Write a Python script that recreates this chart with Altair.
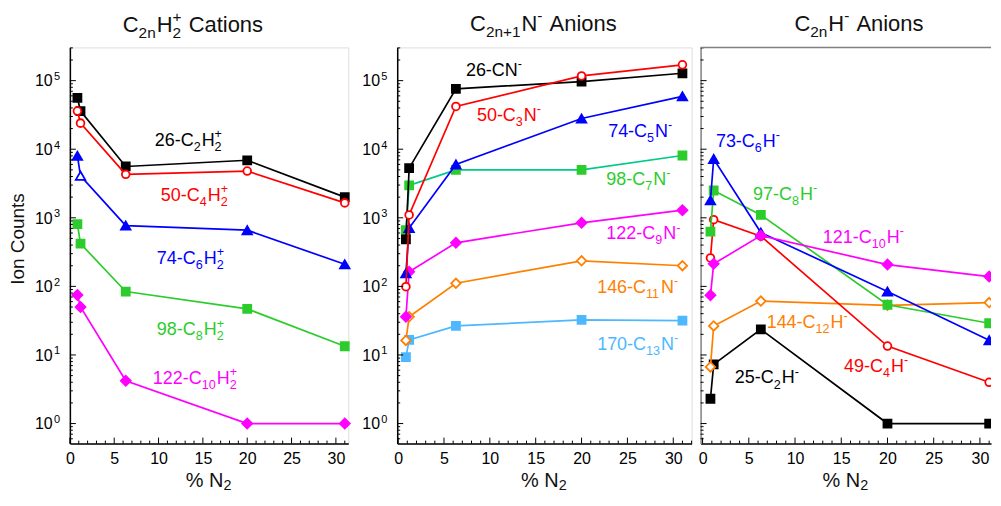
import math
import altair as alt
import pandas as pd

FONT = "Liberation Sans"

# ---------------- data ----------------
PCT_N2 = [0.85, 1.2, 6.3, 20, 31]

# Panel 1: C2nH2+ cations
CAT_26 = [5.6e4, 3.6e4, 5.6e3, 6.9e3, 2.0e3]
CAT_50 = [3.6e4, 2.4e4, 4.3e3, 4.8e3, 1.65e3]
CAT_74 = [8.0e3, 4.1e3, 7.7e2, 6.6e2, 2.1e2]
CAT_98 = [8.1e2, 4.2e2, 84, 47, 13.4]
CAT_122 = [75, 50, 4.2, 1, 1]

# Panel 2: C2n+1N- anions
CN_26 = [484, 5.3e3, 7.6e4, 9.7e4, 1.28e5]
CN_50 = [99, 1.1e3, 4.2e4, 1.17e5, 1.7e5]
CN_74 = [155, 7.1e2, 6.0e3, 2.8e4, 5.9e4]
CN_98 = [660, 2.97e3, 5.0e3, 5.0e3, 8.1e3]
CN_122 = [36, 163, 432, 845, 1290]
CN_146 = [16.3, 36, 111, 236, 200]
CN_170 = [9.3, 16.6, 26.5, 32.5, 31.7]

# Panel 3: C2nH- anions
CH_73 = [1.8e3, 7.2e3, 6.1e2, 84, 16.4]
CH_97 = [6.3e2, 2.5e3, 1.1e3, 54, 29]
CH_49 = [260, 940, 540, 13.5, 4.0]
CH_121 = [74, 213, 550, 208, 139]
CH_144 = [6.7, 26.5, 61, 53, 58]
CH_25 = [2.3, 7.3, 23.6, 1, 1]

X_TICKS = [0, 5, 10, 15, 20, 25, 30]
DECADES = [0, 1, 2, 3, 4, 5]

BLACK = "#000000"; RED = "#ff0000"; BLUE = "#0000ff"; GREEN = "#2ccc2c"
MAGENTA = "#ff00ff"; ORANGE = "#ff8000"; LBLUE = "#4db8ff"; TEAL = "#00c98a"
FRAME = "#808080"

# ---------------- text helpers ----------------
WID = {str(d): 0.556 for d in range(10)}
WID.update({'-': 0.333, '+': 0.584, ' ': 0.278, '%': 0.889, 'C': 0.722, 'H': 0.722,
            'N': 0.722, 'A': 0.667, 'I': 0.278, 'a': 0.556, 't': 0.278, 'i': 0.222,
            'o': 0.556, 'n': 0.556, 's': 0.5, 'u': 0.556})


def tw(s, fs):
    return sum(WID.get(ch, 0.556) for ch in s) * fs


class Panel:
    def __init__(self, xdom, ydom, w, h):
        self.x0, self.x1 = xdom
        self.ly0, self.ly1 = math.log10(ydom[0]), math.log10(ydom[1])
        self.w, self.h = w, h
        self.xs = alt.Scale(domain=list(xdom), nice=False, zero=False)
        self.ys = alt.Scale(type="log", domain=list(ydom), nice=False)

    def x2px(self, x):
        return (x - self.x0) / (self.x1 - self.x0) * self.w

    def px2x(self, px):
        return self.x0 + px / self.w * (self.x1 - self.x0)

    def y2py(self, y):
        return (self.ly1 - math.log10(y)) / (self.ly1 - self.ly0) * self.h

    def py2y(self, py):
        return 10 ** (self.ly1 - py / self.h * (self.ly1 - self.ly0))


def rich(panel, spec, px, py, fs, color, ratio=0.68, center=False, sub=0.28, sup=-0.43):
    small = fs * ratio
    sub_dy, sup_dy = sub * fs, sup * fs
    items = []
    cur = 0.0
    for it in spec:
        kind = it[0]
        if kind in ('n', 'sub', 'sup'):
            size = fs if kind == 'n' else small
            dy = 0 if kind == 'n' else (sub_dy if kind == 'sub' else sup_dy)
            text = it[1]
            if text.startswith(' '):
                cur += tw(' ', size)
                text = text[1:]
            items.append((text, cur, dy, size))
            cur += tw(text, size) + (1 if kind != 'n' else 0)
        else:  # stacked sub + sup
            items.append((it[1], cur, sub_dy, small))
            items.append((it[2], cur, sup_dy, small))
            cur += max(tw(it[1], small), tw(it[2], small)) + 1
    start = px - cur / 2 if center else px
    rows = []
    for text, dx, dy, size in items:
        rows.append(dict(x=panel.px2x(start + dx), y=panel.py2y(py + dy), t=text, fs=size, c=color))
    return rows


def annot(panel, spec, xd, yd, color, fs=18):
    return rich(panel, spec, panel.x2px(xd), panel.y2py(yd), fs, color, ratio=0.7)


def build_panel(panel, series, labels, title_spec, title_px, title_py, ylabels=True,
                ytitle=False, ydomain_color=BLACK, clip=False, frame=True):
    xax = alt.Axis(values=X_TICKS, ticks=False, grid=False, title=None, labelPadding=7,
                   labelFontSize=16, labelFont=FONT, labelColor=BLACK, labelFlush=False,
                   domainColor=BLACK, domainWidth=1.5)
    yax = alt.Axis(labels=False, ticks=False, grid=False, title=None,
                   domainColor=ydomain_color, domainWidth=1.5)
    xs, ys = panel.xs, panel.ys

    def X(f):
        return alt.X(f, scale=xs, axis=xax)

    def Y(f):
        return alt.Y(f, scale=ys, axis=yax)

    layers = []
    for s in series:
        df = pd.DataFrame({'x': PCT_N2, 'y': s['vals'],
                           'open': [i in s.get('open', []) for i in range(len(PCT_N2))]})
        layers.append(alt.Chart(df).mark_line(color=s.get('line', s['color']), strokeWidth=1.7,
                                              clip=clip)
                      .encode(x=X('x:Q'), y=Y('y:Q')))
        layers.append(alt.Chart(df).mark_point(shape=s['shape'], size=s['size'], filled=True,
                                               stroke=s['color'], strokeWidth=1.8, opacity=1,
                                               clip=clip)
                      .encode(x=X('x:Q'), y=Y('y:Q'),
                              fill=alt.condition('datum.open', alt.value('white'),
                                                 alt.value(s['color']))))

    # inward ticks
    ymaj = [10 ** k for k in DECADES]
    ymin = [m * 10 ** k for k in range(-1, 6) for m in range(2, 10)
            if 10 ** panel.ly0 <= m * 10 ** k <= 10 ** panel.ly1]
    for vals, ln in ((ymaj, 6), (ymin, 3)):
        layers.append(alt.Chart(pd.DataFrame({'v': vals})).mark_rule(color=BLACK, strokeWidth=1)
                      .encode(y=Y('v:Q'), x=alt.value(0), x2=alt.value(ln)))
    xmin = [v for v in range(0, 33) if v % 5 and panel.x0 <= v <= panel.x1]
    for vals, ln in ((X_TICKS, 6), (xmin, 3)):
        layers.append(alt.Chart(pd.DataFrame({'v': vals})).mark_rule(color=BLACK, strokeWidth=1)
                      .encode(x=X('v:Q'), y=alt.value(panel.h), y2=alt.value(panel.h - ln)))
    if not frame:
        layers.append(alt.Chart(pd.DataFrame({'v': [1]})).mark_rule(color=FRAME, strokeWidth=1.5)
                      .encode(x=alt.value(0), x2=alt.value(panel.w), y=alt.value(0)))

    rows = []
    for spec, xd, yd, col in labels:
        rows += annot(panel, spec, xd, yd, col)
    rows += rich(panel, title_spec, title_px, title_py, 22, '#111111', ratio=0.7,
                 sub=0.26, sup=-0.46)
    rows += rich(panel, [('n', '% N'), ('sub', '2')], panel.w / 2, panel.h + 43, 20, '#111111',
                 ratio=0.72, center=True, sub=0.18)
    if ylabels:
        for k in DECADES:
            py = panel.y2py(10 ** k)
            rows.append(dict(x=panel.px2x(-35), y=panel.py2y(py + 5.8), t='10', fs=16, c=BLACK))
            rows.append(dict(x=panel.px2x(-16), y=panel.py2y(py - 0.5), t=str(k), fs=11, c=BLACK))
    tdf = pd.DataFrame(rows)
    layers.append(alt.Chart(tdf).mark_text(align='left', baseline='alphabetic', font=FONT)
                  .encode(x=X('x:Q'), y=Y('y:Q'),
                          text='t:N', size=alt.Size('fs:Q', scale=None),
                          color=alt.Color('c:N', scale=None)))
    if ytitle:
        ydf = pd.DataFrame([dict(x=panel.px2x(-52), y=panel.py2y(192), t='Ion Counts')])
        layers.append(alt.Chart(ydf).mark_text(angle=270, align='center', baseline='middle',
                                               font=FONT, fontSize=19, color='#111111')
                      .encode(x=X('x:Q'), y=Y('y:Q'), text='t:N'))
    out = alt.layer(*layers).properties(width=panel.w, height=panel.h)
    if not frame:
        out = out.properties(view=alt.ViewBackground(stroke='transparent'))
    return out


YDOM = (0.51, 3.05e5)
H = 397
P1 = Panel((0, 31.4), YDOM, 279, H)
P2 = Panel((-0.1, 32), YDOM, 295, H)
P3 = Panel((-0.216, 31.2), YDOM, 291, H)

SQ, CI, TR, DI = 'square', 'circle', 'triangle-up', 'diamond'

s1 = [
    dict(vals=CAT_122, color=MAGENTA, shape=DI, size=100),
    dict(vals=CAT_98, color=GREEN, shape=SQ, size=64),
    dict(vals=CAT_74, color=BLUE, shape=TR, size=90, open=[1]),
    dict(vals=CAT_26, color=BLACK, shape=SQ, size=64),
    dict(vals=CAT_50, color=RED, shape=CI, size=60, open=[0, 1, 2, 3, 4]),
]
l1 = [
    ([('n', '26-C'), ('sub', '2'), ('n', 'H'), ('ss', '2', '+')], 9.57, 1.13e4, BLACK),
    ([('n', '50-C'), ('sub', '4'), ('n', 'H'), ('ss', '2', '+')], 10.25, 1.75e3, RED),
    ([('n', '74-C'), ('sub', '6'), ('n', 'H'), ('ss', '2', '+')], 9.8, 215, BLUE),
    ([('n', '98-C'), ('sub', '8'), ('n', 'H'), ('ss', '2', '+')], 9.8, 19.3, GREEN),
    ([('n', '122-C'), ('sub', '10'), ('n', 'H'), ('ss', '2', '+')], 9.35, 3.78, MAGENTA),
]
t1 = [('n', 'C'), ('sub', '2n'), ('n', 'H'), ('ss', '2', '+'), ('n', ' Cations')]

s2 = [
    dict(vals=CN_170, color=LBLUE, shape=SQ, size=64),
    dict(vals=CN_146, color=ORANGE, shape=DI, size=90, open=[0, 1, 2, 3, 4]),
    dict(vals=CN_122, color=MAGENTA, shape=DI, size=100),
    dict(vals=CN_98, color=GREEN, line=TEAL, shape=SQ, size=64),
    dict(vals=CN_74, color=BLUE, shape=TR, size=90),
    dict(vals=CN_26, color=BLACK, shape=SQ, size=64),
    dict(vals=CN_50, color=RED, shape=CI, size=60, open=[0, 1, 2, 3, 4]),
]
l2 = [
    ([('n', '26-CN'), ('sup', '-')], 7.39, 1.18e5, BLACK),
    ([('n', '50-C'), ('sub', '3'), ('n', 'N'), ('sup', '-')], 8.59, 2.56e4, RED),
    ([('n', '74-C'), ('sub', '5'), ('n', 'N'), ('sup', '-')], 22.9, 1.5e4, BLUE),
    ([('n', '98-C'), ('sub', '7'), ('n', 'N'), ('sup', '-')], 22.7, 3.05e3, GREEN),
    ([('n', '122-C'), ('sub', '9'), ('n', 'N'), ('sup', '-')], 22.7, 484, MAGENTA),
    ([('n', '146-C'), ('sub', '11'), ('n', 'N'), ('sup', '-')], 21.7, 81, ORANGE),
    ([('n', '170-C'), ('sub', '13'), ('n', 'N'), ('sup', '-')], 21.7, 11.9, LBLUE),
]
t2 = [('n', 'C'), ('sub', '2n+1'), ('n', 'N'), ('sup', '-'), ('n', ' Anions')]

s3 = [
    dict(vals=CH_25, color=BLACK, shape=SQ, size=64),
    dict(vals=CH_144, color=ORANGE, shape=DI, size=90, open=[0, 1, 2, 3, 4]),
    dict(vals=CH_49, color=RED, shape=CI, size=60, open=[0, 1, 2, 3, 4]),
    dict(vals=CH_97, color=GREEN, shape=SQ, size=64),
    dict(vals=CH_73, color=BLUE, shape=TR, size=90),
    dict(vals=CH_121, color=MAGENTA, shape=DI, size=100),
]
l3 = [
    ([('n', '73-C'), ('sub', '6'), ('n', 'H'), ('sup', '-')], 1.44, 1.09e4, BLUE),
    ([('n', '97-C'), ('sub', '8'), ('n', 'H'), ('sup', '-')], 5.46, 1.82e3, GREEN),
    ([('n', '121-C'), ('sub', '10'), ('n', 'H'), ('sup', '-')], 13.0, 430, MAGENTA),
    ([('n', '144-C'), ('sub', '12'), ('n', 'H'), ('sup', '-')], 6.93, 25, ORANGE),
    ([('n', '49-C'), ('sub', '4'), ('n', 'H'), ('sup', '-')], 15.3, 5.66, RED),
    ([('n', '25-C'), ('sub', '2'), ('n', 'H'), ('sup', '-')], 3.49, 3.84, BLACK),
]
t3 = [('n', 'C'), ('sub', '2n'), ('n', 'H'), ('sup', '-'), ('n', ' Anions')]

c1 = build_panel(P1, s1, l1, t1, 53, -15, ylabels=True, ytitle=True)
c2 = build_panel(P2, s2, l2, t2, 73, -16, ylabels=True)
c3 = build_panel(P3, s3, l3, t3, 94, -16, ylabels=False, ydomain_color=FRAME,
                 clip=True, frame=False)

inner = alt.hconcat(c2, c3, spacing=9, bounds='flush')
chart = (alt.hconcat(c1, inner, spacing=49, bounds='flush')
         .properties(padding={'left': 0, 'top': 0, 'right': 0, 'bottom': 0})
         .configure_view(stroke=FRAME, strokeWidth=1.5)
         .configure(background='white'))

chart.save("out.html", embed_options={"renderer": "svg", "actions": False})
